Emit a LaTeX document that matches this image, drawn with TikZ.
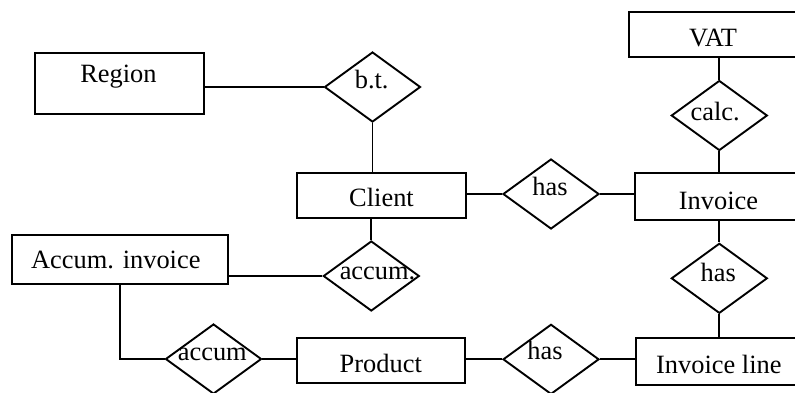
\documentclass[tikz,border=0pt]{standalone}
\usepackage{fontspec}
\setmainfont{Liberation Serif}
\usepackage{tikz}
\usetikzlibrary{shapes.geometric}

\tikzset{
	linea/.style= {line width= 0.95pt},
	entidad/.style 2 args= {draw, linea, rectangle, minimum width= #1, minimum height= #2, inner sep= 0pt},
	relacion/.style= {draw, linea, diamond, minimum width= 48pt, minimum height= 35pt, inner sep= 0pt},
	texto/.style= {inner sep= 0pt, text height= 0pt, text depth= 0pt, font= \fontsize{13.2}{15}\selectfont}
}

\begin{document}
\begin{tikzpicture}[x= 0.5pt, y= -0.5pt]
	\useasboundingbox (0,0) rectangle (795,392);
	\clip (0,0) rectangle (795,392);

	% entidades
	\node (region) [entidad= {84.5pt}{30.2pt}, label= {[texto, xshift= -0.5pt, yshift= 0.4pt]center:Region}] at (119.5,83.5) {};
	\node (client) [entidad= {84.5pt}{22.8pt}, label= {[texto, yshift= -5.6pt]center:Client}] at (381.5,195.5) {};
	\node (vat) [entidad= {85.7pt}{22.8pt}, label= {[texto, xshift= -0.6pt, yshift= -5.75pt]center:VAT}] at (714.3,34.5) {};
	\node (invoice) [entidad= {83.5pt}{23.4pt}, label= {[texto, yshift= -6.15pt]center:Invoice}] at (718.5,196.7) {};
	\node (invline) [entidad= {83.2pt}{23.4pt}, label= {[texto, yshift= -5.8pt]center:Invoice line}] at (718.8,361.7) {};
	\node (product) [entidad= {84.2pt}{22.5pt}, label= {[texto, yshift= -5.95pt]center:Product}] at (380.8,360.8) {};
	\node (accuminv) [entidad= {108.3pt}{24.7pt}, label= {[texto, xshift= -2.1pt, yshift= -4.3pt]center:Accum. invoice}] at (120,259.7) {};

	% relaciones
	\node (bt) [relacion, label= {[texto, xshift= -0.4pt, yshift= -0.65pt]center:b.t.}] at (372.5,87) {};
	\node (hasinv) [relacion, label= {[texto, xshift= -0.5pt, yshift= -0.5pt]center:has}] at (551,194) {};
	\node (calc) [relacion, label= {[texto, xshift= -2.1pt, yshift= -2.6pt]center:calc.}] at (719.3,115.5) {};
	\node (hasline) [relacion, label= {[texto, xshift= -0.5pt, yshift= -1.35pt]center:has}] at (719.3,278.3) {};
	\node (hasprod) [relacion, label= {[texto, xshift= -3pt]center:has}] at (551,359.3) {};
	\node (accumcli) [relacion, label= {[texto, xshift= 3.1pt, yshift= -1.65pt]center:accum.}] at (371.3,276) {};
	\node (accumrel) [relacion, label= {[texto, xshift= -0.6pt, yshift= -0.5pt]center:accum}] at (213.5,359) {};

	% conexiones
	\draw [linea] (bt.west) -- (bt.west -| region.east);
	\draw [linea] (bt.south) -- (bt.south |- client.north);
	\draw [linea] (hasinv.west) -- (hasinv.west -| client.east);
	\draw [linea] (hasinv.east) -- (hasinv.east -| invoice.west);
	\draw [linea] (calc.north) -- (calc.north |- vat.south);
	\draw [linea] (calc.south) -- (calc.south |- invoice.north);
	\draw [linea] (hasline.north) -- (hasline.north |- invoice.south);
	\draw [linea] (hasline.south) -- (hasline.south |- invline.north);
	\draw [linea] (hasprod.east) -- (hasprod.east -| invline.west);
	\draw [linea] (hasprod.west) -- (hasprod.west -| product.east);
	\draw [linea] (accumrel.east) -- (accumrel.east -| product.west);
	\draw [linea] (accumcli.north) -- (accumcli.north |- client.south);
	\draw [linea] (accumcli.west) -- (accumcli.west -| accuminv.east);
	\draw [linea] (accuminv.south) -- (accuminv.south |- accumrel) -- (accumrel.west);
\end{tikzpicture}
\end{document}
